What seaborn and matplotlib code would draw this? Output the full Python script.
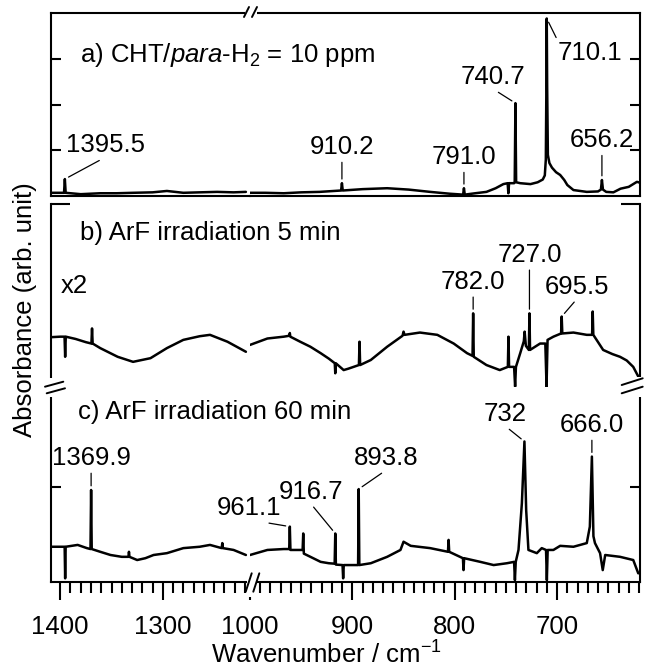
import matplotlib
matplotlib.use("Agg")
import matplotlib.pyplot as plt
from matplotlib.lines import Line2D
from matplotlib.patches import Rectangle
from matplotlib.ticker import MultipleLocator
import seaborn as sns


# ──────────────────────────────────────────────
# SPECTRA  (wavenumber / cm-1, absorbance in arb. units)
# ──────────────────────────────────────────────

# a) CHT/para-H2 = 10 ppm
a_left_wn = [1409, 1400, 1396.3, 1395.5, 1394.7, 1380, 1361, 1345, 1329, 1310,
             1296, 1288, 1280, 1264, 1247, 1231, 1219]
a_left_abs = [0.07, 0.07, 0.07, 0.37, 0.07, 0.04, 0.06, 0.06, 0.07, 0.08,
              0.11, 0.09, 0.07, 0.08, 0.09, 0.08, 0.09]
a_right_wn = [1000, 985, 967, 950, 932, 911, 910.2, 909.4, 890, 866, 845, 824, 805,
              791.8, 791.0, 790.2, 780, 769, 760, 752.5, 748.3, 747.6, 746.9, 742,
              741.4, 740.7, 740.0, 736, 726, 719, 714, 712, 711, 710.4, 710.1, 709.7,
              709, 707.5, 705, 701, 697, 693, 690, 684, 671, 660, 657.2, 656.2, 655.2,
              652, 645, 638, 630, 622, 619]
a_right_abs = [0.07, 0.07, 0.06, 0.08, 0.09, 0.12, 0.28, 0.12, 0.15, 0.17, 0.14, 0.09, 0.05,
               0.03, 0.17, 0.03, 0.06, 0.09, 0.17, 0.26, 0.28, 0.06, 0.28, 0.28,
               0.30, 2.03, 0.30, 0.28, 0.26, 0.30, 0.36, 0.45, 0.80, 2.60, 3.88, 2.40,
               0.90, 0.72, 0.62, 0.52, 0.46, 0.35, 0.24, 0.13, 0.09, 0.10, 0.14, 0.35, 0.14,
               0.09, 0.08, 0.16, 0.20, 0.31, 0.29]

# b) ArF irradiation 5 min (x2)
b_left_wn = [1408, 1400, 1395.8, 1395.2, 1394.6, 1385, 1375, 1369.6, 1369.0, 1368.4,
             1361, 1344, 1329, 1312, 1296, 1280, 1264, 1254, 1237, 1219]
b_left_abs = [1.09, 1.10, 1.10, 0.66, 1.10, 1.05, 0.98, 0.95, 1.28, 0.95,
              0.85, 0.66, 0.55, 0.63, 0.85, 1.03, 1.11, 1.14, 0.99, 0.77]
b_right_wn = [1000, 983, 967, 961.6, 961.1, 960.6, 951, 941, 931, 923, 917.2, 916.7, 916.2,
              908.5, 904, 893.6, 893.0, 892.4, 882, 866, 851, 850, 849, 834, 817, 801,
              788, 782.6, 782.0, 781.4, 769, 756, 748.1, 747.5, 746.9, 742, 741.0, 740.2,
              736, 732.5, 731.7, 730.5, 727.6, 727.0, 726.4, 716.6, 711.5, 710.3, 709.3,
              703.6, 696.1, 695.5, 694.9, 684, 671, 665.8, 665.2, 664.6, 655, 646, 638.5,
              632, 625.6, 620.7, 619]
b_right_abs = [0.92, 1.06, 1.10, 1.12, 1.18, 1.10, 0.99, 0.88, 0.74, 0.62, 0.52, 0.30, 0.52,
               0.37, 0.40, 0.48, 0.99, 0.48, 0.59, 0.88, 1.12, 1.21, 1.14, 1.19, 1.14, 0.95,
               0.74, 0.68, 1.61, 0.66, 0.48, 0.37, 0.44, 1.10, 0.44, 0.44, 0.01, 0.44,
               0.74, 1.00, 1.21, 0.90, 0.81, 1.61, 0.81, 0.95, 0.95, 0.01, 1.03,
               1.10, 1.17, 1.54, 1.17, 1.19, 1.14, 1.14, 1.65, 1.14, 0.81, 0.72, 0.66,
               0.58, 0.44, 0.23, 0.25]

# c) ArF irradiation 60 min
c_left_wn = [1408, 1400, 1395.7, 1395.2, 1394.7, 1383, 1374, 1370.5, 1369.9, 1369.3,
             1361, 1351, 1340, 1333.5, 1333, 1332.5, 1325, 1317, 1309, 1296, 1280,
             1264, 1254, 1242.6, 1242, 1241.4, 1231, 1219]
c_left_abs = [0.77, 0.77, 0.77, 0.08, 0.77, 0.81, 0.74, 0.72, 2.01, 0.72,
              0.66, 0.59, 0.55, 0.55, 0.66, 0.55, 0.48, 0.52, 0.59, 0.63, 0.74,
              0.77, 0.81, 0.74, 0.85, 0.74, 0.70, 0.59]
c_right_wn = [1000, 983, 967, 961.7, 961.1, 960.5, 954, 948.6, 948, 947.4, 941, 931, 923,
              917.3, 916.7, 916.1, 909.6, 909, 908.4, 894.4, 893.8, 893.2, 882, 866, 853,
              850, 843, 824, 806.6, 806, 805.4, 792, 791.4, 790.8, 775, 762, 749, 742,
              741.2, 740.4, 737.7, 734.4, 731.9, 730.2, 728, 719.8, 715, 710.8, 710,
              709.2, 703.6, 697, 684, 671, 668, 666.0, 664.5, 663, 658, 655.4, 653,
              638.5, 625.6, 620.7, 619]
c_right_abs = [0.59, 0.70, 0.72, 0.72, 1.21, 0.70, 0.70, 0.70, 1.06, 0.62, 0.55, 0.44, 0.41,
               0.40, 1.06, 0.38, 0.37, 0.08, 0.37, 0.37, 2.03, 0.37, 0.41, 0.55, 0.70,
               0.88, 0.79, 0.74, 0.66, 0.92, 0.66, 0.52, 0.26, 0.52, 0.44, 0.37, 0.41, 0.44,
               0.04, 0.44, 0.70, 1.72, 3.07, 1.57, 0.70, 0.63, 0.74, 0.70, 0.04,
               0.70, 0.70, 0.79, 0.77, 0.85, 1.21, 2.74, 1.00, 0.85, 0.63, 0.26, 0.59,
               0.55, 0.48, 0.19, 0.20]

# Peak labels: text, wavenumber, top of the band
a_labels = ["1395.5", "910.2", "791.0", "740.7", "710.1", "656.2"]
a_peak_wn = [1395.5, 910.2, 791.0, 740.7, 710.1, 656.2]
a_peak_top = [0.37, 0.28, 0.17, 2.03, 3.88, 0.35]

b_labels = ["782.0", "727.0", "695.5"]
b_peak_wn = [782.0, 727.0, 695.5]
b_peak_top = [1.61, 1.61, 1.54]

c_labels = ["1369.9", "961.1", "916.7", "893.8", "732", "666.0"]
c_peak_wn = [1369.9, 961.1, 916.7, 893.8, 731.9, 666.0]
c_peak_top = [2.01, 1.21, 1.06, 2.03, 3.07, 2.74]

panel_titles = [r"a) CHT/$\mathit{para}$-H$_2$ = 10 ppm",
                "b) ArF irradiation 5 min",
                "c) ArF irradiation 60 min"]

left_ticks = [1400, 1300]
right_ticks = [1000, 900, 800, 700]


# ──────────────────────────────────────────────
# STYLE
# ──────────────────────────────────────────────

sns.set_theme(style="ticks")
plt.rcParams.update({
    "font.family": ["Liberation Sans", "DejaVu Sans"],
    "mathtext.fontset": "custom",
    "mathtext.rm": "Liberation Sans",
    "mathtext.it": "Liberation Sans:italic",
    "mathtext.bf": "Liberation Sans:bold",
    "axes.linewidth": 1.5,
    "axes.edgecolor": "black",
    "xtick.color": "black",
    "ytick.color": "black",
    "text.color": "black",
})

FS = 18.5
W, H = 648, 670
fig = plt.figure(figsize=(W / 100, H / 100), dpi=100)


def rect(x0, y0, x1, y1):
    """Pixel box (origin top-left) -> figure fraction rect."""
    return [x0 / W, 1 - y1 / H, (x1 - x0) / W, (y1 - y0) / H]


def fig_line(x0, y0, x1, y1, **kw):
    fig.add_artist(Line2D([x0 / W, x1 / W], [1 - y0 / H, 1 - y1 / H],
                          transform=fig.transFigure, color="black",
                          lw=1.4, zorder=21, **kw))


def fig_gap(x0, y0, x1, y1):
    fig.add_artist(Rectangle((x0 / W, 1 - y1 / H), (x1 - x0) / W, (y1 - y0) / H,
                             transform=fig.transFigure, facecolor="white",
                             edgecolor="none", zorder=20))


X0, XB, X1 = 51, 250, 640
ROWS = [(13, 196), (204, 387), (387, 582)]
YLIMS = [(0, 4), (0, 4), (0, 4.26)]
YTICKS = [[1, 2, 3], [4], [2.08]]
YTICKLEN = [7, 14, 7]

spectra = [
    (a_left_wn, a_left_abs, a_right_wn, a_right_abs),
    (b_left_wn, b_left_abs, b_right_wn, b_right_abs),
    (c_left_wn, c_left_abs, c_right_wn, c_right_abs),
]

axes = []
for i, ((top, bot), ylim, spec) in enumerate(zip(ROWS, YLIMS, spectra)):
    axl = fig.add_axes(rect(X0, top, XB, bot))
    axr = fig.add_axes(rect(XB, top, X1, bot))
    sns.lineplot(x=spec[0], y=spec[1], ax=axl, color="black", lw=1.8,
                 estimator=None, sort=False)
    sns.lineplot(x=spec[2], y=spec[3], ax=axr, color="black", lw=1.8,
                 estimator=None, sort=False)
    axl.set_xlim(1409, 1215)
    axr.set_xlim(1000, 619)
    for ax in (axl, axr):
        ax.set_ylim(*ylim)
        ax.set_xlabel("")
        ax.set_ylabel("")
        ax.patch.set_visible(False)
        ax.set_yticks(YTICKS[i])
        ax.tick_params(axis="y", direction="in", length=YTICKLEN[i], width=1.5,
                       labelleft=False, labelright=False)
    axl.spines["right"].set_visible(False)
    axr.spines["left"].set_visible(False)
    axr.yaxis.tick_right()
    axr.tick_params(axis="y", labelright=False)
    if i == 0:
        for ax in (axl, axr):
            ax.tick_params(axis="x", which="both", bottom=False, labelbottom=False)
    elif i == 1:
        for ax in (axl, axr):
            ax.spines["top"].set_visible(False)
            ax.spines["bottom"].set_visible(False)
            ax.tick_params(axis="x", which="both", bottom=False, labelbottom=False)
    else:
        axl.set_xticks(left_ticks)
        axr.set_xticks(right_ticks)
        for ax in (axl, axr):
            ax.spines["top"].set_visible(False)
            ax.xaxis.set_minor_locator(MultipleLocator(10))
            ax.tick_params(axis="x", which="major", direction="out", length=13,
                           width=1.5, labelsize=FS, pad=11)
            ax.tick_params(axis="x", which="minor", direction="out", length=8,
                           width=1.5)
    axes.append((axl, axr))


# ──────────────────────────────────────────────
# LABELS
# ──────────────────────────────────────────────

def label_peaks(pair, labels, peak_wn, peak_top, places):
    axl, axr = pair
    for lab, wn, yt, (tx, ty, rel) in zip(labels, peak_wn, peak_top, places):
        ax = axl if wn > 1100 else axr
        ax.annotate(lab, xy=(wn, yt), xytext=(tx, ty), textcoords="data",
                    ha="center", va="center", fontsize=FS,
                    arrowprops=dict(arrowstyle="-", lw=0.9, color="black",
                                    shrinkA=0, shrinkB=3, relpos=rel))


label_peaks(axes[0], a_labels, a_peak_wn, a_peak_top, [
    (1356, 1.11, (0.5, 0)), (910.2, 1.07, (0.5, 0)), (791.0, 0.85, (0.5, 0)),
    (762.4, 2.60, (0.5, 0)), (667.8, 3.13, (0, 1)), (656.2, 1.22, (0.5, 0)),
])
label_peaks(axes[1], b_labels, b_peak_wn, b_peak_top, [
    (782.0, 2.30, (0.5, 0)), (727.0, 2.89, (0.5, 0)), (680.5, 2.19, (0.5, 0)),
])
label_peaks(axes[2], c_labels, c_peak_wn, c_peak_top, [
    (1369.9, 2.71, (0.5, 0)), (1000.5, 1.62, (0.5, 0)), (940.5, 1.97, (0.5, 0)),
    (866.8, 2.71, (0.5, 0)), (750.7, 3.67, (0.5, 0)), (666.0, 3.43, (0.5, 0)),
])

title_pos = [(1380.5, 3.08), (1380.5, 3.37), (1382.5, 3.72)]
for (axl, _), title, (tx, ty) in zip(axes, panel_titles, title_pos):
    axl.text(tx, ty, title, ha="left", va="center", fontsize=FS)
axes[1][0].text(1400, 2.21, "x2", ha="left", va="center", fontsize=FS)

fig.text(25 / W, 1 - 310 / H, "Absorbance (arb. unit)", rotation=90,
         ha="center", va="center", fontsize=FS)
fig.text(326 / W, 1 - 664 / H, r"Wavenumber / cm$^{-1}$", ha="center",
         va="baseline", fontsize=FS)


# ──────────────────────────────────────────────
# AXIS BREAK MARKS
# ──────────────────────────────────────────────

# top spine of a)
fig_gap(245, 9, 257, 17)
fig_line(244, 17, 249, 7)
fig_line(252, 17, 257, 7)
# bottom spine of c)
fig_gap(247, 577, 257, 597)
fig_line(245.7, 591.7, 251.7, 573.3)
fig_line(253.3, 591.7, 259.3, 573.3)
# left spine between b) and c)
fig_gap(47, 378, 56, 397)
fig_line(45, 386.7, 63.3, 381.7)
fig_line(46.7, 393.3, 65, 388.3)
# right spine between b) and c)
fig_gap(635, 377, 645, 397)
fig_line(621.7, 385, 642.7, 378.3)
fig_line(621.7, 393.3, 642.7, 386.7)

fig.savefig("out.png", dpi=100, facecolor="white")
